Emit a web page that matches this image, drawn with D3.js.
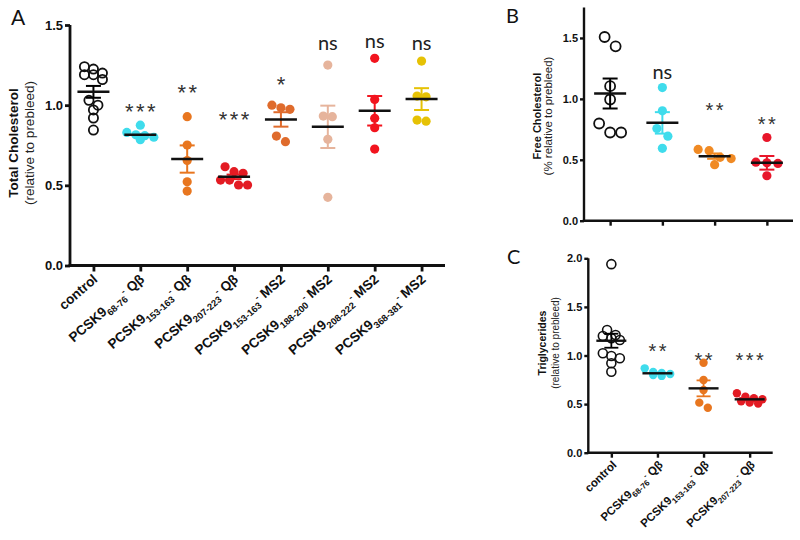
<!DOCTYPE html>
<html><head><meta charset="utf-8">
<script src="https://cdn.jsdelivr.net/npm/d3@7"></script>
<style>body{margin:0;background:#fff}svg{display:block}</style>
</head><body><svg id="chart" width="800" height="540"></svg>
<script>
// ---------------- DATA ----------------
// Panel A: Total Cholesterol
const categoriesA = ["control","PCSK9 68-76 Qβ","PCSK9 153-163 Qβ","PCSK9 207-223 Qβ",
  "PCSK9 153-163 MS2","PCSK9 188-200 MS2","PCSK9 208-222 MS2","PCSK9 368-381 MS2"];
const valuesA = [
  [1.24,1.225,1.2,1.19,1.19,1.16,1.03,1.0,0.97,0.92,0.845],
  [0.875,0.83,0.815,0.81,0.80,0.785],
  [0.928,0.751,0.655,0.522,0.464],
  [0.616,0.585,0.575,0.533,0.533,0.502,0.502],
  [1.0,0.984,0.974,0.807,0.772],
  [1.25,0.932,0.928,0.787,0.425],
  [1.292,1.036,0.918,0.859,0.726],
  [1.275,1.057,1.052,0.907,0.90]
];
const meansA = [1.083,0.815,0.664,0.553,0.911,0.865,0.965,1.038];
const semsA  = [0.037,0.006,0.085,0.014,0.045,0.132,0.092,0.068];
const sigA   = ["","***","**","***","*","ns","ns","ns"];
const sigLevelA = [0,0.99,1.108,0.938,1.156,1.379,1.391,1.375];
const colorsA = ["#000000","#3fdcec","#e8761f","#e31b23","#df6b2c","#e6b49c","#f2141e","#e6c205"];
const ticksA = [0,0.5,1.0,1.5];

// Panel B: Free Cholesterol
const categoriesB = ["control","PCSK9 68-76 Qβ","PCSK9 153-163 Qβ","PCSK9 207-223 Qβ"];
const valuesB = [
  [1.508,1.431,1.104,0.995,0.798,0.724,0.724],
  [1.093,0.902,0.757,0.694,0.594],
  [0.585,0.575,0.52,0.51,0.46],
  [0.683,0.48,0.475,0.47,0.369]
];
const meansB = [1.044,0.803,0.53,0.475];
const semsB  = [0.123,0.088,0.022,0.056];
const sigB   = ["","ns","**","**"];
const sigLevelB = [0,1.202,0.94,0.825];
const colorsB = ["#000000","#3fdcec","#f08a24","#e8162a"];
const ticksB = [0,0.5,1.0,1.5];

// Panel C: Triglycerides
const categoriesC = ["control","PCSK9 68-76 Qβ","PCSK9 153-163 Qβ","PCSK9 207-223 Qβ"];
const valuesC = [
  [1.94,1.262,1.211,1.2,1.177,1.16,1.023,0.995,0.971,0.92,0.833],
  [0.868,0.83,0.82,0.81,0.80,0.79],
  [0.926,0.748,0.645,0.515,0.463],
  [0.611,0.576,0.56,0.55,0.53,0.515,0.505]
];
const meansC = [1.152,0.817,0.662,0.549];
const semsC  = [0.072,0.01,0.082,0.012];
const sigC   = ["","**","**","***"];
const sigLevelC = [0,1.09,0.995,0.995];
const colorsC = ["#000000","#3fdcec","#e8761f","#e31b23"];
const ticksC = [0,0.5,1.0,1.5,2.0];

// ---------------- DRAWING ----------------
const svg = d3.select("#chart");
svg.append("rect").attr("width",800).attr("height",540).attr("fill","#fff");
const SANS = "'Liberation Sans', Arial, sans-serif";
const LETTER = "Lato, 'Open Sans', sans-serif";

function swarm(vals, y, spacing, binH) {
  // row-based beeswarm: points with close y share a row and are centred
  const idx = vals.map((v,i)=>i).sort((a,b)=>vals[b]-vals[a]);
  const off = new Array(vals.length).fill(0);
  let row = [];
  let rowStart = null;
  const flush = () => {
    row.forEach((k,j)=>{ off[k] = (j-(row.length-1)/2)*spacing; });
    row = [];
  };
  idx.forEach(k=>{
    const py = y(vals[k]);
    if (rowStart===null || py-rowStart > binH) { flush(); rowStart = py; }
    row.push(k);
  });
  flush();
  return off;
}

function labelText(sel, name, fs) {
  if (!name.startsWith("PCSK9")) { sel.text(name); return; }
  const parts = name.split(" ");
  sel.append("tspan").text(parts[0]);
  sel.append("tspan").attr("dy", fs*0.3).attr("font-size", fs*0.7).text(parts[1]);
  sel.append("tspan").attr("dy", -fs*0.55).attr("font-size", fs*0.7).text("-");
  sel.append("tspan").attr("dy", fs*0.25).text(" " + parts[2]);
}

function panel(o) {
  const x = d3.scalePoint().domain(o.cats).range([o.x0,o.x1]).padding(0.5);
  const y = d3.scaleLinear().domain([0,o.ymax]).range([o.yb,o.yt]);
  const g = svg.append("g");

  // y axis
  const ya = g.append("g").attr("transform",`translate(${o.x0},0)`)
    .call(d3.axisLeft(y).tickValues(o.ticks).tickFormat(d3.format(".1f")).tickSize(o.tick).tickPadding(2).tickSizeOuter(0));
  ya.select(".domain").attr("stroke","#111").attr("stroke-width",o.sw).attr("d",`M0,${o.yt}V${o.yb}`);
  ya.selectAll(".tick line").attr("stroke","#111").attr("stroke-width",o.sw);
  ya.selectAll(".tick text").attr("font-family",SANS).attr("font-weight","bold").attr("font-size",o.tfs).attr("fill","#111");

  // x axis
  const xa = g.append("g").attr("transform",`translate(0,${o.yb})`)
    .call(d3.axisBottom(x).tickSize(o.tick+1).tickSizeOuter(0).tickFormat(""));
  xa.select(".domain").attr("stroke","#111").attr("stroke-width",o.sw).attr("d",`M${o.x0-o.sw/2},0H${o.x1}`);
  xa.selectAll(".tick line").attr("stroke","#111").attr("stroke-width",o.sw);
  if (o.labels) {
    o.cats.forEach(c=>{
      const t = g.append("text")
        .attr("transform",`translate(${x(c)+o.ldx},${o.yb+o.ldy}) rotate(${o.rot})`)
        .attr("text-anchor","end").attr("font-family",SANS).attr("font-weight","bold")
        .attr("font-size",o.lfs).attr("fill","#111");
      labelText(t, c, o.lfs);
    });
  }

  // y titles
  g.append("text").attr("transform",`translate(${o.t1x},${o.tcy}) rotate(-90)`)
    .attr("text-anchor","middle").attr("font-family",SANS).attr("font-weight","bold")
    .attr("font-size",o.t1fs).attr("fill","#111").text(o.title);
  g.append("text").attr("transform",`translate(${o.t2x},${o.tcy}) rotate(-90)`)
    .attr("text-anchor","middle").attr("font-family",SANS)
    .attr("font-size",o.t2fs).attr("fill","#222").text(o.sub);

  // panel letter
  g.append("text").attr("x",o.lx).attr("y",o.ly).attr("font-family",LETTER)
    .attr("font-size",o.letterFs).attr("fill","#111").text(o.letter);

  // points
  o.cats.forEach((c,i)=>{
    const vals = o.values[i];
    const offs = swarm(vals, y, o.spacing, o.binH);
    const open = i===0;
    g.append("g").selectAll("circle").data(vals).join("circle")
      .attr("cx",(d,k)=>x(c)+offs[k]).attr("cy",d=>y(d))
      .attr("r", open ? o.ro : o.rf)
      .attr("fill", open ? "none" : o.colors[i])
      .attr("stroke", open ? "#111" : "none")
      .attr("stroke-width", open ? o.osw : 0);
    // SEM
    const cx = x(c), m = o.means[i], s = o.sems[i];
    const eb = g.append("g").attr("stroke", o.colors[i]).attr("stroke-width", o.ebw).attr("fill","none");
    eb.append("line").attr("x1",cx).attr("x2",cx).attr("y1",y(m+s)).attr("y2",y(m-s));
    [m+s,m-s].forEach(v=>eb.append("line").attr("x1",cx-o.cap).attr("x2",cx+o.cap).attr("y1",y(v)).attr("y2",y(v)));
    // mean
    g.append("line").attr("x1",cx-o.mw).attr("x2",cx+o.mw).attr("y1",y(m)).attr("y2",y(m))
      .attr("stroke","#111").attr("stroke-width",o.mlw);
    // significance
    const sig = o.sig[i];
    if (sig) {
      if (sig==="ns") {
        g.append("text").attr("x",cx).attr("y",y(o.sigLevel[i])+o.nsFs*0.26)
          .attr("text-anchor","middle").attr("font-family",LETTER).attr("font-size",o.nsFs)
          .attr("fill","#222").text("ns");
      } else {
        g.append("text").attr("x",cx+o.starLs/2).attr("y",y(o.sigLevel[i])+o.starFs*0.55)
          .attr("text-anchor","middle").attr("font-family",SANS).attr("font-size",o.starFs)
          .attr("letter-spacing",o.starLs).attr("fill","#333").text(sig);
      }
    }
  });
}

panel({cats:categoriesA, values:valuesA, means:meansA, sems:semsA, sig:sigA, sigLevel:sigLevelA,
  colors:colorsA, ticks:ticksA, ymax:1.5, x0:70, x1:445, yt:25, yb:265.5,
  sw:2.8, tick:5, tfs:13, labels:true, lfs:13.5, ldx:5, ldy:15, rot:-41,
  title:"Total Cholesterol", sub:"(relative to prebleed)", t1x:18, t2x:34, tcy:143, t1fs:13.5, t2fs:13.5,
  letter:"A", lx:11, ly:25, letterFs:21,
  spacing:9, binH:7, ro:4.6, rf:4.6, osw:1.8, ebw:2, cap:7.5, mw:16, mlw:2.5,
  nsFs:20, starFs:22, starLs:2.5});

panel({cats:categoriesB, values:valuesB, means:meansB, sems:semsB, sig:sigB, sigLevel:sigLevelB,
  colors:colorsB, ticks:ticksB, ymax:1.75, x0:584, x1:793, yt:7.5, yb:220.7,
  sw:2.4, tick:4, tfs:11, labels:false,
  title:"Free Cholesterol", sub:"(% relative to prebleed)", t1x:541, t2x:551.5, tcy:116, t1fs:11, t2fs:11.5,
  letter:"B", lx:506, ly:23, letterFs:20,
  spacing:11, binH:10, ro:5, rf:4.6, osw:1.8, ebw:2, cap:7.5, mw:16, mlw:2.5,
  nsFs:20, starFs:20, starLs:2.5});

panel({cats:categoriesC, values:valuesC, means:meansC, sems:semsC, sig:sigC, sigLevel:sigLevelC,
  colors:colorsC, ticks:ticksC, ymax:2.0, x0:588.3, x1:772.7, yt:258.3, yb:452.7,
  sw:2.4, tick:4, tfs:11, labels:true, lfs:11.5, ldx:6, ldy:13, rot:-44,
  title:"Triglycerides", sub:"(relative to prebleed)", t1x:546, t2x:559, tcy:343, t1fs:10.5, t2fs:10,
  letter:"C", lx:507, ly:264, letterFs:20,
  spacing:8.5, binH:6, ro:4.5, rf:4.2, osw:1.6, ebw:1.8, cap:7, mw:15, mlw:2.4,
  nsFs:18, starFs:20, starLs:2.5});
</script></body></html>
